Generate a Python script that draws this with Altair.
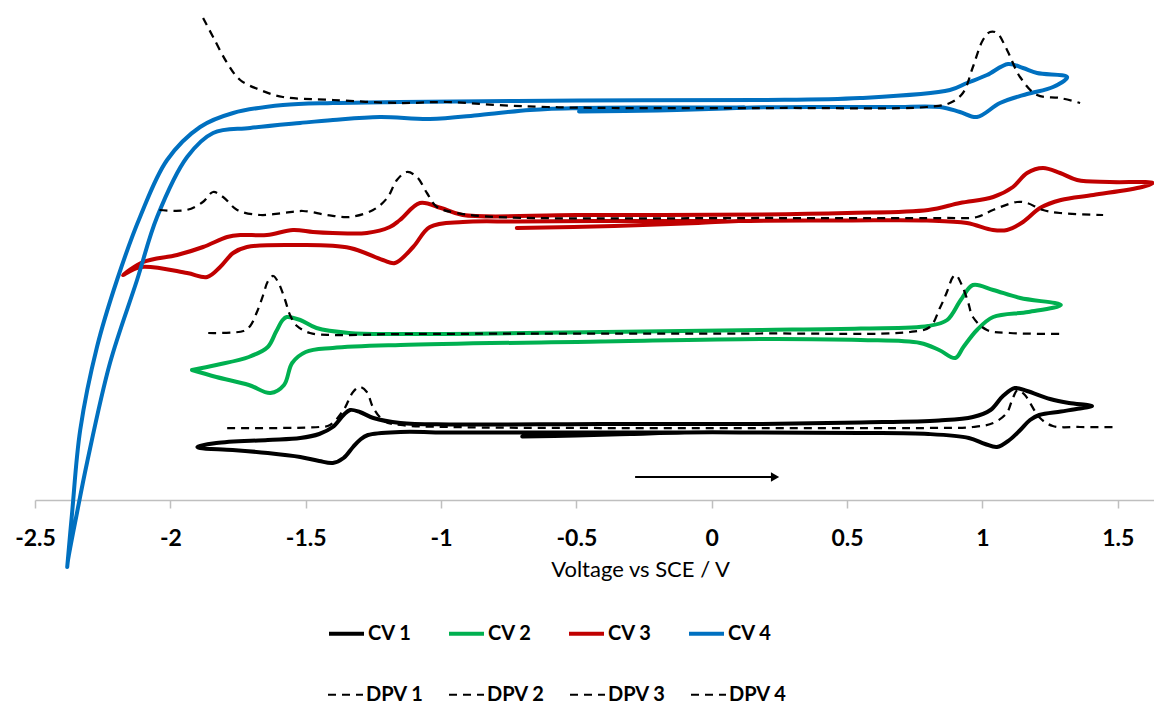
import altair as alt
import pandas as pd

# ---------------- data (voltage vs SCE / V, offset current / arbitrary units) ----------------
cv_names = ["CV 1", "CV 2", "CV 3", "CV 4"]
cv_colors = ["#000000", "#00b050", "#c00000", "#0070c0"]
dpv_names = ["DPV 1", "DPV 2", "DPV 3", "DPV 4"]

cv1_v = [-0.70, -0.50, -0.30, -0.10, 0.18, 0.55, 0.80, 0.95, 1.01, 1.054, 1.10, 1.14, 1.176, 1.21, 1.29, 1.36, 1.405,
         1.32, 1.25, 1.165, 1.12, 1.076, 1.03, 0.965, 0.84, 0.55, 0.18, -0.41, -0.97, -1.15, -1.25, -1.30, -1.336,
         -1.36, -1.40, -1.45, -1.52, -1.64, -1.83, -1.89, -1.90,
         -1.89, -1.77, -1.64, -1.52, -1.45, -1.40, -1.36, -1.325, -1.30, -1.27, -1.15, -0.97, -0.70, -0.40, -0.10]
cv1_i = [6.35, 6.45, 6.6, 6.75, 6.75, 6.7, 6.6, 6.2, 5.6, 5.3, 6.0, 7.0, 8.0, 8.5, 8.85, 9.15, 9.4,
         9.7, 10.1, 10.9, 11.2, 10.4, 9.0, 8.3, 7.95, 7.75, 7.6, 7.6, 7.55, 7.7, 8.2, 8.8, 9.0,
         8.5, 7.3, 6.6, 6.2, 6.0, 5.7, 5.4, 5.3,
         5.2, 5.0, 4.7, 4.3, 3.9, 3.7, 4.2, 5.3, 6.0, 6.5, 6.8, 6.75, 6.75, 6.75, 6.75]

cv2_v = [-1.92, -1.83, -1.71, -1.64, -1.61, -1.585, -1.57, -1.52, -1.46, -1.34, -1.15, -0.41, 0.18, 0.55, 0.80,
         0.87, 0.92, 0.965, 1.04, 1.14, 1.29,
         1.17, 1.04, 0.98, 0.93, 0.90, 0.84, 0.77, 0.55, 0.18, -0.41, -1.15, -1.40, -1.50, -1.55, -1.58, -1.63,
         -1.71, -1.83, -1.92]
cv2_i = [13.0, 13.5, 14.3, 15.3, 16.8, 18.0, 18.3, 18.0, 17.2, 16.7, 16.6, 16.8, 17.0, 17.15, 17.4,
         18.0, 20.0, 21.5, 21.0, 20.2, 19.5,
         18.8, 18.3, 17.0, 15.3, 14.2, 15.0, 15.7, 16.0, 16.1, 15.85, 15.5, 15.2, 14.8, 13.7, 11.5, 10.7,
         11.5, 12.3, 13.0]

cv3_v = [-0.72, -0.36, -0.05, 0.10, 0.50, 0.795, 0.943, 1.039, 1.091, 1.15, 1.213, 1.29, 1.41, 1.59, 1.63,
         1.47, 1.35, 1.287, 1.224, 1.165, 1.113, 1.04, 0.917, 0.80, 0.50, 0.18, -0.50, -0.92, -1.00, -1.078,
         -1.152, -1.189, -1.274, -1.40, -1.473, -1.547, -1.643, -1.742, -1.79, -1.879, -1.975, -2.10, -2.175,
         -2.11, -1.938, -1.864, -1.816, -1.768, -1.717, -1.52, -1.336, -1.215, -1.17, -1.103, -1.041, -0.919,
         -0.72, -0.37, 0.05]
cv3_i = [27.2, 27.4, 27.7, 27.9, 27.95, 27.95, 27.7, 27.0, 27.0, 27.8, 29.2, 30.0, 30.5, 31.3, 31.7,
         31.8, 32.0, 32.7, 33.2, 32.7, 31.3, 30.3, 29.7, 29.0, 28.7, 28.55, 28.5, 28.5, 29.2, 29.7,
         28.0, 27.3, 26.7, 26.7, 26.8, 27.0, 26.5, 26.5, 26.3, 25.3, 24.5, 23.8, 22.5,
         23.3, 22.7, 22.3, 23.3, 24.7, 25.3, 25.5, 25.2, 24.0, 23.7, 25.3, 27.3, 27.8,
         27.85, 27.9, 27.9]

cv4_v = [-0.49, -0.20, 0.05, 0.15, 0.40, 0.669, 0.843, 0.917, 0.98, 1.065, 1.165, 1.261, 1.313,
         1.202, 1.15, 1.095, 1.017, 0.943, 0.88, 0.548, 0.178, -0.487, -1.152, -1.399, -1.584, -1.768,
         -1.890, -2.012, -2.112, -2.197, -2.271, -2.333, -2.363, -2.381,
         -2.378, -2.345, -2.308, -2.223, -2.123, -2.049, -1.938, -1.842, -1.705, -1.521, -1.399, -1.226,
         -1.041, -0.856, -0.671, -0.487, -0.20, 0.12]
cv4_i = [38.85, 38.95, 39.15, 39.25, 39.3, 39.3, 39.3, 38.8, 38.3, 39.7, 40.6, 41.3, 42.3,
         42.7, 43.2, 43.6, 42.5, 41.7, 41.0, 40.2, 40.0, 39.95, 39.8, 39.7, 39.5, 38.7,
         37.3, 34.0, 28.3, 22.0, 15.3, 7.0, -1.3, -6.7,
         -6.0, -1.3, 3.7, 13.7, 22.0, 28.3, 34.3, 36.7, 37.2, 37.7, 38.0, 38.3,
         38.1, 38.5, 39.0, 39.2, 39.25, 39.25]

dpv1_v = [-1.79, -1.45, -1.41, -1.36, -1.325, -1.30, -1.274, -1.25, -1.21, -1.15, -0.97, -0.41, 0.18, 0.80,
          0.965, 1.04, 1.09, 1.11, 1.13, 1.157, 1.176, 1.213, 1.26, 1.36, 1.50]
dpv1_i = [7.2, 7.3, 7.5, 9.0, 10.8, 11.3, 10.8, 9.2, 7.9, 7.5, 7.3, 7.2, 7.2, 7.2,
          7.3, 7.7, 8.7, 10.0, 11.0, 10.5, 9.7, 8.2, 7.4, 7.3, 7.3]

dpv2_v = [-1.86, -1.73, -1.705, -1.68, -1.657, -1.639, -1.62, -1.602, -1.576, -1.558, -1.532, -1.484, -1.40,
          -1.15, 0.18, 0.733, 0.806, 0.843, 0.869, 0.891, 0.902, 0.924, 0.947, 0.965, 1.017, 1.102, 1.294]
dpv2_i = [16.7, 16.9, 17.4, 18.8, 20.5, 21.9, 22.4, 21.8, 20.0, 18.5, 17.4, 16.7, 16.5,
          16.6, 16.65, 16.8, 17.3, 19.2, 20.8, 22.3, 22.5, 21.5, 19.8, 18.3, 17.0, 16.7, 16.6]

dpv3_v = [-2.04, -1.94, -1.88, -1.842, -1.805, -1.753, -1.668, -1.584, -1.51, -1.421, -1.336, -1.251, -1.199,
          -1.163, -1.126, -1.089, -1.052, -1.015, -0.941, -0.793, 0.252, 0.854, 0.98, 1.039, 1.128, 1.165,
          1.224, 1.287, 1.446]
dpv3_i = [29.0, 29.0, 29.8, 30.8, 30.3, 29.0, 28.5, 28.7, 28.9, 28.5, 28.3, 29.0, 30.2,
          32.0, 32.8, 32.3, 30.7, 29.3, 28.7, 28.3, 28.2, 28.2, 28.3, 29.0, 29.8, 29.7,
          29.0, 28.7, 28.5]

dpv4_v = [-1.879, -1.842, -1.79, -1.742, -1.668, -1.584, -1.399, -1.152, -0.978, -0.793, -0.608, -0.365,
          0.252, 0.795, 0.88, 0.928, 0.965, 1.002, 1.028, 1.054, 1.091, 1.139, 1.202, 1.287, 1.361]
dpv4_i = [48.2, 46.3, 43.7, 42.0, 41.0, 40.3, 40.0, 39.7, 39.8, 39.5, 39.3, 39.2,
          39.2, 39.3, 39.7, 40.7, 43.3, 46.0, 46.8, 46.7, 45.0, 42.3, 40.5, 40.2, 39.7]

# scan-direction arrow
arrow_start = [-0.283]
arrow_end = [0.234]
arrow_level = [2.3]

tick_values = [-2.5, -2, -1.5, -1, -0.5, 0, 0.5, 1, 1.5]
x_title = "Voltage vs SCE / V"

# ---------------- tables ----------------
def long_table(names, vs, cs):
    rows = []
    for name, v_list, c_list in zip(names, vs, cs):
        for k, (v, c) in enumerate(zip(v_list, c_list)):
            rows.append({"series": name, "V": v, "I": c, "k": k})
    return pd.DataFrame(rows)

cv_df = long_table(cv_names, [cv1_v, cv2_v, cv3_v, cv4_v], [cv1_i, cv2_i, cv3_i, cv4_i])
dpv_df = long_table(dpv_names, [dpv1_v, dpv2_v, dpv3_v, dpv4_v], [dpv1_i, dpv2_i, dpv3_i, dpv4_i])
arrow_df = pd.DataFrame({"V": arrow_start, "V2": arrow_end, "I": arrow_level})

x_scale = alt.Scale(domain=[-2.5, 1.634], nice=False, zero=False)
y_scale = alt.Scale(domain=[0, 49], nice=False, zero=False)

x_axis = alt.Axis(
    values=tick_values, labelExpr="'' + datum.value", grid=False,
    domainColor="#bfbfbf", domainWidth=1.5, tickColor="#bfbfbf", tickWidth=1.5, tickSize=8,
    labelFont="Lato", labelFontSize=23, labelFontWeight="bold", labelColor="#000000",
    labelFlush=False, labelOverlap=False, labelBaseline="alphabetic", labelPadding=37,
    title=x_title, titleFont="Lato", titleFontSize=22, titleFontWeight="normal", titleColor="#000000",
    titleX=605, titleY=76, titleBaseline="alphabetic", titleAlign="center", titleAnchor="start",
)

legend_common = dict(
    title=None, orient="none", direction="horizontal", symbolType="stroke", symbolSize=1225,
    labelFont="Lato", labelFontSize=20, labelFontWeight="bold", labelColor="#000000",
    labelOffset=2, padding=0,
)

cv_layer = alt.Chart(cv_df).mark_line(
    strokeWidth=4, strokeCap="round", strokeJoin="round", interpolate="catmull-rom"
).encode(
    x=alt.X("V:Q", scale=x_scale, axis=x_axis, title=x_title),
    y=alt.Y("I:Q", scale=y_scale, axis=None),
    color=alt.Color("series:N", scale=alt.Scale(domain=cv_names, range=cv_colors),
                    legend=alt.Legend(legendX=292, legendY=604, columnPadding=29,
                                      symbolStrokeWidth=4, **legend_common)),
    order="k:Q",
)

dpv_layer = alt.Chart(dpv_df).mark_line(
    strokeWidth=2.25, color="#000000", strokeCap="butt", interpolate="catmull-rom"
).encode(
    x=alt.X("V:Q", title=x_title),
    y=alt.Y("I:Q", axis=None),
    strokeDash=alt.StrokeDash("series:N", scale=alt.Scale(domain=dpv_names, range=[[8, 6]] * 4),
                              legend=alt.Legend(legendX=292, legendY=666, columnPadding=21,
                                                symbolStrokeWidth=2, symbolStrokeColor="#000000",
                                                **legend_common)),
    order="k:Q",
)

arrow_line = alt.Chart(arrow_df).mark_rule(color="#000000", strokeWidth=2).encode(
    x=alt.X("V:Q", title=x_title), x2="V2:Q", y=alt.Y("I:Q", axis=None)
)
arrow_head = alt.Chart(arrow_df).mark_point(
    shape="triangle-right", filled=True, color="#000000", size=90, opacity=1
).encode(x=alt.X("V2:Q", title=x_title), y=alt.Y("I:Q", axis=None))

chart = alt.layer(cv_layer, dpv_layer, arrow_line, arrow_head).properties(
    width=1119, height=490,
    background="#ffffff",
    autosize=alt.AutoSizeParams(type="none"),
    padding={"left": 27, "top": 2, "right": 0, "bottom": 205},
).configure_view(strokeWidth=0, stroke="transparent")

chart.save("out.html", embed_options={"renderer": "svg", "actions": False})
